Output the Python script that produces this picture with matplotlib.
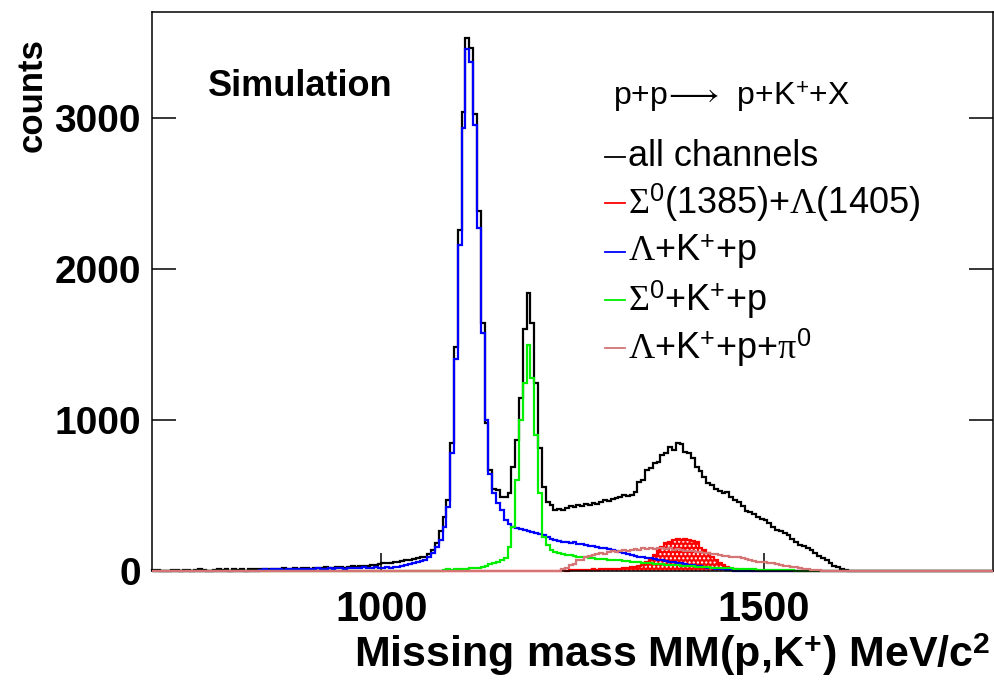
import numpy as np
import matplotlib.pyplot as plt
from matplotlib.lines import Line2D

plt.rcParams['font.family'] = ['Liberation Sans', 'DejaVu Sans']
plt.rcParams['mathtext.fontset'] = 'custom'
plt.rcParams['mathtext.rm'] = 'Liberation Serif'
plt.rcParams['mathtext.it'] = 'Liberation Serif:italic'
plt.rcParams['mathtext.sf'] = 'Liberation Sans'
plt.rcParams['mathtext.bf'] = 'Liberation Sans:bold'

# --- DATA: histograms, 5 MeV bins from 700 to 1800 MeV ---
X_MIN, X_MAX, BIN_W = 700, 1800, 5

all_start = 700
all_counts = [
    8, 8, 0, 0, 0, 6, 8, 0, 8, 6, 0, 8, 10, 8, 0, 0, 8, 10, 8, 10,
    0, 10, 8, 12, 0, 10, 12, 10, 12, 15, 12, 15, 10, 15, 18, 12, 15, 20, 15, 18,
    20, 15, 22, 18, 20, 25, 20, 22, 25, 28, 22, 25, 30, 28, 30, 35, 32, 38, 40, 45,
    50, 55, 55, 60, 58, 65, 72, 75, 80, 85, 90, 95, 110, 139, 185, 264, 357, 470, 850, 1480,
    2254, 3040, 3530, 3463, 3027, 2380, 1640, 978, 668, 540, 535, 490, 490, 515, 687, 866, 1143, 1600, 1837, 1639,
    1243, 813, 555, 456, 440, 403, 410, 405, 420, 430, 425, 438, 430, 445, 440, 450, 445, 460, 470, 465,
    475, 480, 490, 500, 495, 505, 520, 590, 600, 668, 680, 714, 720, 767, 780, 820, 800, 846, 840, 790,
    780, 745, 687, 660, 620, 582, 570, 545, 530, 515, 520, 490, 469, 455, 430, 400, 390, 375, 355, 345,
    337, 320, 290, 271, 262, 250, 238, 215, 190, 172, 165, 152, 140, 118, 100, 86, 70, 50, 30, 26, 12, 5,
]

res_start = 1230  # Sigma0(1385) + Lambda(1405)
res_counts = [
    3, 5, 3, 5, 5, 6, 8, 6, 8, 10, 8, 10, 12, 10,
    12, 15, 15, 18, 22, 25, 28, 32, 40, 60, 80, 106, 139, 160, 185, 190, 205, 210, 205, 210,
    205, 200, 190, 150, 139, 119, 90, 73, 50, 40, 26, 15, 10, 8, 5, 6, 4, 3, 3, 2,
]

lam_start = 840  # Lambda + K+ + p
lam_counts = [
    8, 10, 8, 12, 10, 12, 8, 10, 12, 15, 10, 12, 15, 12, 15, 18, 15, 12, 18, 15,
    20, 18, 15, 20, 22, 18, 20, 25, 22, 20, 25, 22,
    20, 25, 22, 28, 26, 30, 38, 45, 52, 60, 65, 75, 95, 119, 160, 205, 290, 423, 780, 1400,
    2161, 2935, 3457, 3370, 2954, 2273, 1573, 998, 640, 515, 450, 403, 337, 310, 290, 285, 275, 270, 265, 255,
    250, 245, 235, 225, 215, 205, 200, 195, 190, 185, 195, 180, 178, 170, 165, 168, 160, 150, 152, 145,
    140, 135, 125, 119, 110, 105, 100, 95, 93, 88, 85, 80, 75, 70, 66, 62, 58, 55, 52, 48,
    42, 38, 33, 30, 26, 22, 18, 15, 12, 10, 7, 5, 3,
]

sig_start = 1080  # Sigma0 + K+ + p
sig_counts = [
    5, 10, 8, 12,
    12, 15, 15, 18, 20, 22, 28, 35, 45, 52, 60, 70, 85, 160, 290, 600, 1000, 1243, 1494, 1275,
    899, 515, 225, 172, 140, 125, 118, 112, 108, 104, 100, 95, 90, 92, 86, 84, 80, 82, 78, 75,
    76, 72, 70, 66, 64, 60, 62, 58, 55, 52, 50, 48, 46, 45, 42, 40, 40, 38, 36, 34,
    32, 30, 29, 27, 25, 24, 22, 21, 20, 19, 18, 17, 15, 14, 13, 12, 11, 10, 9, 8,
    8, 7, 6, 6, 5, 5, 4, 4, 3, 3, 2, 2, 2, 1, 1,
]

pi0_start = 1235  # Lambda + K+ + p + pi0
pi0_counts = [
    10, 20, 40, 45, 70, 75, 90, 100, 105, 110, 120, 115, 125,
    130, 125, 135, 140, 135, 140, 145, 140, 150, 145, 150, 148, 152, 150, 145, 150, 140, 145, 138, 135,
    135, 130, 128, 125, 122, 120, 115, 110, 105, 100, 98, 95, 93, 90, 86, 80, 72, 68, 62, 60,
    57, 55, 53, 45, 40, 35, 30, 28, 26, 22, 15, 12, 9, 6, 4, 2,
]

y_ticks = [0, 1000, 2000, 3000]
x_ticks = [1000, 1500]

legend_labels = [
    "all channels",
    r"$\Sigma^{\mathsf{0}}$(1385)+$\Lambda$(1405)",
    r"$\Lambda$+K$^{\mathsf{+}}$+p",
    r"$\Sigma^{\mathsf{0}}$+K$^{\mathsf{+}}$+p",
    r"$\Lambda$+K$^{\mathsf{+}}$+p+$\mathrm{\pi}^{\mathsf{0}}$",
]
colors = ['black', '#ff0000', '#0000ff', '#00ee00', '#d47474']

# --- build full histograms ---
edges = np.arange(X_MIN, X_MAX + BIN_W, BIN_W)
n_bins = len(edges) - 1


def to_hist(start, vals):
    h = np.zeros(n_bins)
    i0 = (start - X_MIN) // BIN_W
    h[i0:i0 + len(vals)] = vals
    return h


h_all = to_hist(all_start, all_counts)
h_res = to_hist(res_start, res_counts)
h_lam = to_hist(lam_start, lam_counts)
h_sig = to_hist(sig_start, sig_counts)
h_pi0 = to_hist(pi0_start, pi0_counts)

# --- plot ---
W, H = 995, 680
fig = plt.figure(figsize=(W / 100, H / 100), dpi=100)
ax = fig.add_axes([152 / W, 109 / H, (993 - 152) / W, (571 - 12) / H])

lw = 1.6
ax.stairs(h_all, edges, color=colors[0], lw=lw, clip_on=False, zorder=2)
ax.stairs(h_res, edges, fill=True, facecolor='#ff0000', edgecolor='white',
          hatch='....', linewidth=0, zorder=2.1)
ax.stairs(h_res, edges, color=colors[1], lw=lw, clip_on=False, zorder=2.2)
ax.stairs(h_lam, edges, color=colors[2], lw=lw, clip_on=False, zorder=2.3)
ax.stairs(h_sig, edges, color=colors[3], lw=lw, clip_on=False, zorder=2.4)
ax.stairs(h_pi0, edges, color=colors[4], lw=lw, clip_on=False, zorder=3)

ax.set_xlim(X_MIN, X_MAX)
ax.set_ylim(0, 3700)
ax.set_xticks(x_ticks)
ax.set_yticks(y_ticks)
ax.tick_params(axis='y', direction='in', length=17, width=1.1, left=True,
               right=True, labelsize=28, pad=8)
ax.tick_params(axis='x', direction='in', length=13, width=1.1, top=False,
               labelsize=30, pad=14)
for lab in ax.get_xticklabels() + ax.get_yticklabels():
    lab.set_fontweight('bold')
for sp in ax.spines.values():
    sp.set_linewidth(1.1)

# axis titles
fig.text(990 / W, 1 - 655 / H, r"Missing mass MM(p,K$^{\mathbf{+}}$) MeV/c$^{\mathbf{2}}$",
         ha='right', va='center', fontsize=31, fontweight='bold')
fig.text(32 / W, 1 - 95 / H, "counts", rotation=90, ha='center', va='center',
         fontsize=25, fontweight='bold')

# annotations
fig.text(208 / W, 1 - 87 / H, "Simulation", ha='left', va='center',
         fontsize=26, fontweight='bold')
fig.text(613 / W, 1 - 97 / H, r"p+p$\!\longrightarrow\!$  p+K$^{\mathsf{+}}$+X",
         ha='left', va='center', fontsize=23)

# legend
leg_y = [157, 203, 252, 300, 348]
for yy, lab, col in zip(leg_y, legend_labels, colors):
    fig.add_artist(Line2D([605 / W, 625 / W], [1 - yy / H, 1 - yy / H],
                          color=col, lw=1.3))
    fig.text(628 / W, 1 - yy / H, lab, ha='left', va='center', fontsize=26)

fig.savefig('out.png', dpi=100)
